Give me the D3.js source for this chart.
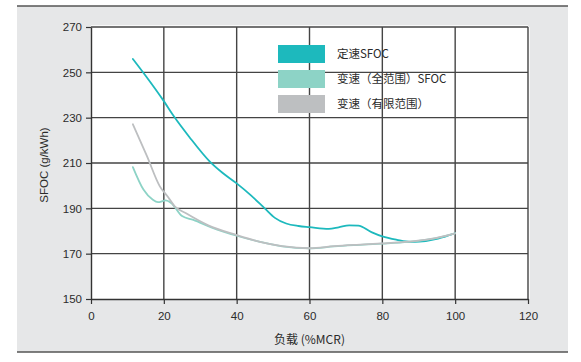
<!DOCTYPE html>
<html><head><meta charset="utf-8">
<script src="https://cdn.jsdelivr.net/npm/d3@7"></script>
<style>
html,body{margin:0;padding:0;background:#fff;}
svg{display:block;font-family:"Liberation Sans","Noto Sans CJK SC",Arial,sans-serif;}
</style></head>
<body>
<svg id="c" width="581" height="362"></svg>
<script>
const xTicks = [0, 20, 40, 60, 80, 100, 120];
const yTicks = [150, 170, 190, 210, 230, 250, 270];
const seriesNames = ["定速SFOC", "变速（全范围）SFOC", "变速（有限范围）"];
const seriesColors = ["#1db9bd", "#8dd3c6", "#bdbfc1"];
const constLoad = [11.5, 15, 20, 22.8, 27, 32.7, 36, 40, 44, 47.7, 50.5, 53.6, 57, 60, 65.3, 68, 70.9, 73.4, 77, 80, 84, 87.7, 90.2, 95.3, 100];
const constSfoc = [255.9, 248.5, 237.3, 230.5, 221.5, 210.5, 205.8, 201.0, 195.6, 190.0, 185.8, 183.3, 182.2, 181.7, 180.9, 181.6, 182.5, 182.4, 179.5, 177.6, 176.1, 175.2, 175.3, 176.6, 179];
const fullLoad = [11.5, 14.4, 16.9, 18.4, 20.5, 22, 25, 28.1, 33.2, 40, 46.4, 52.5, 60, 66.8, 72.9, 80, 87.2, 93.3, 100];
const fullSfoc = [208.2, 198.3, 193.9, 192.7, 193.5, 192.4, 186.6, 184.9, 181.5, 177.9, 175.2, 173.2, 172.3, 173.2, 173.8, 174.4, 175.2, 176.4, 179];
const limLoad = [11.5, 15.4, 18.9, 21, 23, 26.1, 32.2, 40, 46.4, 52.5, 60, 66.8, 72.9, 80, 87.2, 93.3, 100];
const limSfoc = [227.1, 212.9, 199.7, 195.3, 190.9, 187.8, 182.5, 178.2, 175.2, 173.3, 172.4, 173.3, 173.9, 174.5, 175.3, 176.5, 179];

const svg = d3.select("#c");
const W = 581, H = 362;
const m = {l: 91, r: 53, t: 27, b: 63};
const x = d3.scaleLinear().domain([0, 120]).range([m.l, W - m.r]);
const y = d3.scaleLinear().domain([150, 270]).range([H - m.b, m.t]);
const textCol = "#2b2b2b";

// panel
svg.append("rect").attr("x", 17).attr("y", 6).attr("width", 551).attr("height", 346).attr("fill", "#e6e7e8");
svg.append("line").attr("x1", 17).attr("x2", 568).attr("y1", 6).attr("y2", 6).attr("stroke", "#555").attr("stroke-width", 1.5);
svg.append("line").attr("x1", 17).attr("x2", 568).attr("y1", 352).attr("y2", 352).attr("stroke", "#555").attr("stroke-width", 1.5);

// plot area
svg.append("rect").attr("x", x(0)).attr("y", y(270)).attr("width", x(120) - x(0)).attr("height", y(150) - y(270)).attr("fill", "#fff");

// grid
const g = svg.append("g");
const gridX = xTicks.filter(d => d > 0), gridY = yTicks.filter(d => d > 150);
[["#fff", 3.5], ["#444", 1.4]].forEach(([col, w]) => {
  g.selectAll(null).data(gridX).enter().append("line")
    .attr("x1", d => x(d)).attr("x2", d => x(d)).attr("y1", y(270)).attr("y2", y(150))
    .attr("stroke", col).attr("stroke-width", w);
  g.selectAll(null).data(gridY).enter().append("line")
    .attr("x1", x(0)).attr("x2", x(120)).attr("y1", d => y(d)).attr("y2", d => y(d))
    .attr("stroke", col).attr("stroke-width", w);
});

// axes
const xa = svg.append("g").attr("transform", `translate(0,${y(150)})`)
  .call(d3.axisBottom(x).tickValues(xTicks).tickSize(5).tickPadding(8).tickSizeOuter(0));
const ya = svg.append("g").attr("transform", `translate(${x(0)},0)`)
  .call(d3.axisLeft(y).tickValues(yTicks).tickSize(5).tickPadding(4).tickSizeOuter(0));
[xa, ya].forEach(a => {
  a.select(".domain").attr("stroke", "#333").attr("stroke-width", 1.4);
  a.selectAll(".tick line").attr("stroke", "#333").attr("stroke-width", 1.2);
  a.selectAll("text").attr("fill", textCol).attr("font-size", 11.5).attr("font-family", "Liberation Sans, Arial, sans-serif");
});

// lines
const line = d3.line().x(d => x(d[0])).y(d => y(d[1])).curve(d3.curveMonotoneX);
const series = [
  d3.zip(constLoad, constSfoc),
  d3.zip(fullLoad, fullSfoc),
  d3.zip(limLoad, limSfoc)
];
series.forEach((s, i) => {
  svg.append("path").datum(s).attr("d", line).attr("fill", "none")
    .attr("stroke", seriesColors[i]).attr("stroke-width", 1.8).attr("stroke-linecap", "round");
});

// legend
const lg = svg.append("g");
seriesNames.forEach((n, i) => {
  const yy = 45 + i * 25;
  lg.append("rect").attr("x", 278).attr("y", yy).attr("width", 47).attr("height", 18)
    .attr("fill", seriesColors[i]);
  lg.append("text").attr("x", 337).attr("y", yy + 13).text(n)
    .attr("fill", textCol).attr("font-size", 11.5).attr("font-family", "Noto Sans CJK SC, Liberation Sans, sans-serif");
});

// axis titles
svg.append("text").attr("x", x(60)).attr("y", 344).attr("text-anchor", "middle")
  .attr("fill", textCol).attr("font-size", 12).attr("font-family", "Noto Sans CJK SC, Liberation Sans, sans-serif")
  .text("负载 (%MCR)");
svg.append("text").attr("transform", `translate(48,${(y(150)+y(270))/2 + 2}) rotate(-90)`).attr("text-anchor", "middle")
  .attr("fill", textCol).attr("font-size", 11.5).attr("font-family", "Liberation Sans, Arial, sans-serif")
  .text("SFOC (g/kWh)");
</script>
</body></html>
